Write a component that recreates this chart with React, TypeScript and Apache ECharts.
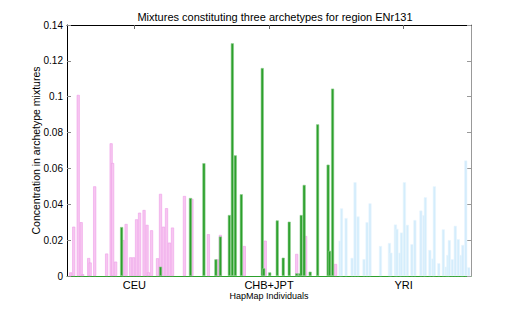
import React, { useEffect, useRef } from "react";
import * as echarts from "echarts";

// Individuals are laid out as 270 slots (90 per population).
const slotCount = 270;
const groups = ["CEU", "CHB+JPT", "YRI"];
const yTicks = { min: 0, max: 0.14, interval: 0.02 };

// [individual slot, concentration] for each archetype
const archetypeCEU: [number, number][] = [
  [2, 0.002], [4, 0.0275], [7, 0.101], [9, 0.03], [10, 0.001], [14, 0.01], [15, 0.0075],
  [18, 0.05], [26, 0.0125], [29, 0.074], [30, 0.063], [32, 0.008], [37, 0.02], [39, 0.029],
  [42, 0.0104], [44, 0.0104], [46, 0.0316], [48, 0.0353], [51, 0.0368], [53, 0.0285],
  [54, 0.002], [56, 0.0255], [60, 0.0099], [62, 0.0458], [64, 0.0275], [66, 0.0378],
  [68, 0.0186], [70, 0.027], [78, 0.0446], [83, 0.043], [94, 0.0233], [100, 0.0093],
  [102, 0.0229], [118, 0.0167], [132, 0.0197], [153, 0.0123], [159, 0.0223], [179, 0.0067],
];
const archetypeCHBJPT: [number, number][] = [
  [36, 0.0273], [62, 0.0052], [82, 0.0435], [91, 0.0629], [99, 0.0093], [102, 0.022],
  [108, 0.034], [110, 0.1298], [112, 0.0673], [116, 0.0456], [130, 0.116], [131, 0.0043],
  [135, 0.002], [140, 0.031], [144, 0.0102], [148, 0.0303], [153, 0.0015], [155, 0.0015],
  [156, 0.034], [158, 0.0508], [162, 0.0024], [167, 0.0846], [174, 0.0621], [175, 0.014],
  [177, 0.1045],
];
const archetypeYRI: [number, number][] = [
  [182, 0.0197], [183, 0.0377], [186, 0.0323], [190, 0.0101], [192, 0.0523], [194, 0.0332],
  [198, 0.0094], [200, 0.03], [202, 0.0405], [209, 0.0167], [215, 0.0184], [216, 0.013],
  [219, 0.0287], [220, 0.0263], [222, 0.013], [223, 0.0242], [225, 0.0523], [227, 0.0285],
  [230, 0.0177], [232, 0.0312], [236, 0.0365], [238, 0.0339], [239, 0.0439], [242, 0.0145],
  [244, 0.0097], [245, 0.05], [248, 0.0071], [251, 0.026], [253, 0.0052], [254, 0.0117],
  [255, 0.02], [257, 0.0093], [259, 0.028], [261, 0.0205], [263, 0.0117], [264, 0.0173],
  [266, 0.0644], [268, 0.0048],
];

const FONT = "'Liberation Sans', Arial, Helvetica, sans-serif";

function toSlots(bars: [number, number][]) {
  const arr: (number | null)[] = new Array(slotCount).fill(null);
  bars.forEach(([i, v]) => {
    arr[i] = v;
  });
  return arr;
}

export default function App() {
  const ref = useRef<HTMLDivElement>(null);
  useEffect(() => {
    document.body.style.margin = "0";
    if (!ref.current) return;
    const chart = echarts.init(ref.current, null, { renderer: "svg" });
    const slots = Array.from({ length: slotCount }, (_, i) => String(i));
    const barBase = { type: "bar", barWidth: 3, barGap: "-100%", xAxisIndex: 0, yAxisIndex: 0, silent: true };
    chart.setOption({
      animation: false,
      backgroundColor: "#fff",
      textStyle: { fontFamily: FONT },
      title: {
        text: "Mixtures constituting three archetypes for region ENr131",
        left: 270,
        textAlign: "center",
        top: 6,
        textStyle: { fontSize: 11, fontWeight: "normal", color: "#000", fontFamily: FONT },
      },
      grid: { left: 67, right: 49, top: 25, bottom: 35 },
      xAxis: [
        {
          type: "category",
          data: slots,
          position: "bottom",
          axisLine: { show: true, lineStyle: { color: "#2ca02c", width: 1 } },
          axisTick: { show: false },
          axisLabel: { show: false },
          splitLine: { show: false },
        },
        {
          type: "category",
          data: groups,
          position: "bottom",
          axisLine: { show: false },
          axisTick: { show: false },
          axisLabel: { color: "#000", fontSize: 11, margin: 3, fontFamily: FONT },
          name: "HapMap Individuals",
          nameLocation: "middle",
          nameGap: 15,
          nameMoveOverlap: false,
          nameTextStyle: { fontSize: 9, color: "#000", fontFamily: FONT },
        },
        {
          type: "category",
          data: groups,
          position: "top",
          axisLine: { show: true, lineStyle: { color: "#000", width: 1 } },
          axisTick: { show: true, inside: true, alignWithLabel: true, length: 4, lineStyle: { color: "#666" } },
          axisLabel: { show: false },
        },
      ],
      yAxis: [
        {
          type: "value",
          ...yTicks,
          position: "left",
          axisLine: { show: true, lineStyle: { color: "#000", width: 1 } },
          axisTick: { show: true, inside: true, length: 4, lineStyle: { color: "#888" } },
          axisLabel: { color: "#000", fontSize: 10, margin: 4, fontFamily: FONT },
          splitLine: { show: false },
          name: "Concentration in archetype mixtures",
          nameLocation: "middle",
          nameGap: 26,
          nameMoveOverlap: false,
          nameTextStyle: { fontSize: 10.5, color: "#000", fontFamily: FONT },
        },
        {
          type: "value",
          ...yTicks,
          position: "right",
          axisLine: { show: true, lineStyle: { color: "#999", width: 1 } },
          axisTick: { show: true, inside: true, length: 4, lineStyle: { color: "#999" } },
          axisLabel: { show: false },
          splitLine: { show: false },
        },
      ],
      series: [
        {
          ...barBase,
          name: "CEU archetype",
          data: toSlots(archetypeCEU),
          itemStyle: { color: "#f7c6f1", borderColor: "#ef9de7", borderWidth: 0.6 },
        },
        {
          ...barBase,
          name: "CHB+JPT archetype",
          data: toSlots(archetypeCHBJPT),
          itemStyle: { color: "#2ca02c", borderColor: "#8acb8a", borderWidth: 0.6 },
        },
        {
          ...barBase,
          name: "YRI archetype",
          data: toSlots(archetypeYRI),
          itemStyle: { color: "#d4edfc", borderColor: "#e8f5fe", borderWidth: 0.6 },
        },
      ],
    });
    return () => chart.dispose();
  }, []);
  return <div ref={ref} style={{ width: 520, height: 311 }} />;
}
